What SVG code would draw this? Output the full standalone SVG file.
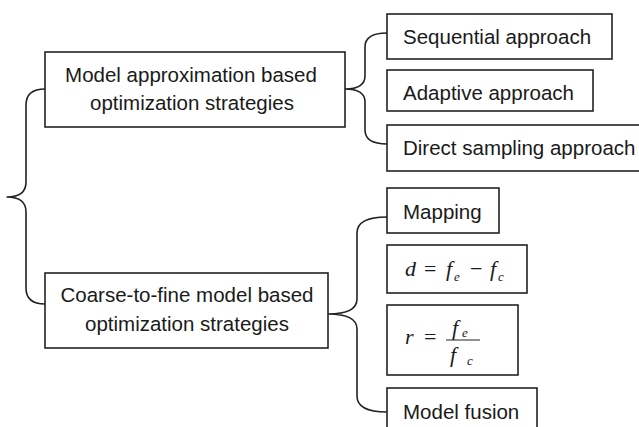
<svg xmlns="http://www.w3.org/2000/svg" width="639" height="427" viewBox="0 0 639 427">
  <style>
    .box { fill: #fff; stroke: #222; stroke-width: 1.6; }
    .brace { fill: none; stroke: #222; stroke-width: 1.6; stroke-linejoin: round; }
    .lbl { font-family: "Liberation Sans", Arial, sans-serif; font-size: 20.5px; fill: #1a1a1a; }
    .mid { text-anchor: middle; }
    .math { font-family: "Liberation Serif", "Times New Roman", serif; font-style: italic; font-size: 22px; fill: #1a1a1a; }
    .up { font-style: normal; }
    .sub { font-size: 13px; }
  </style>

  <!-- connectors: curly braces -->
  <g id="connectors">
    <path class="brace" d="M45,89 Q26,89 26,105 L26,182 Q26,197 7,197 Q26,197 26,212 L26,288 Q26,304 45,304"/>
    <path class="brace" d="M387,33 Q365,33 365,47 L365,76 Q365,89 345,89 Q365,89 365,102 L365,130 Q365,144 387,144"/>
    <path class="brace" d="M387,217 Q357,217 357,233 L357,299 Q357,314 328,314 Q357,314 357,329 L357,396 Q357,412 387,412"/>
  </g>

  <g id="model-approximation">
    <rect class="box" x="45" y="52" width="300" height="75"/>
    <text class="lbl mid" x="191" y="82">Model approximation based</text>
    <text class="lbl mid" x="192" y="110">optimization strategies</text>
  </g>

  <g id="coarse-to-fine">
    <rect class="box" x="45" y="273" width="283" height="75"/>
    <text class="lbl mid" x="187" y="302">Coarse-to-fine model based</text>
    <text class="lbl mid" x="187" y="331">optimization strategies</text>
  </g>

  <g id="sequential">
    <rect class="box" x="387" y="14" width="225" height="45"/>
    <text class="lbl" x="403" y="44">Sequential approach</text>
  </g>

  <g id="adaptive">
    <rect class="box" x="387" y="70" width="206" height="41"/>
    <text class="lbl" x="403" y="100">Adaptive approach</text>
  </g>

  <g id="direct-sampling">
    <rect class="box" x="387" y="125" width="260" height="46"/>
    <text class="lbl" x="403" y="155">Direct sampling approach</text>
  </g>

  <g id="mapping">
    <rect class="box" x="387" y="188" width="112" height="45"/>
    <text class="lbl" x="403" y="219">Mapping</text>
  </g>

  <g id="difference">
    <rect class="box" x="387" y="245" width="140" height="48"/>
    <text class="math" y="276"><tspan x="405">d</tspan><tspan class="up" x="424">=</tspan><tspan x="446">f</tspan><tspan class="sub" x="454" y="281">e</tspan><tspan class="up" x="470" y="276">−</tspan><tspan x="490">f</tspan><tspan class="sub" x="498" y="281">c</tspan></text>
  </g>

  <g id="ratio">
    <rect class="box" x="387" y="305" width="131" height="70"/>
    <text class="math" y="344"><tspan x="405">r</tspan><tspan class="up" x="424">=</tspan></text>
    <text class="math" y="335"><tspan x="452">f</tspan><tspan class="sub" x="462" y="337">e</tspan></text>
    <line x1="446" y1="340" x2="480" y2="340" stroke="#222" stroke-width="1.1"/>
    <text class="math" y="362"><tspan x="450">f</tspan><tspan class="sub" x="467" y="365">c</tspan></text>
  </g>

  <g id="model-fusion">
    <rect class="box" x="387" y="388" width="150" height="50"/>
    <text class="lbl" x="403" y="419">Model fusion</text>
  </g>
</svg>
